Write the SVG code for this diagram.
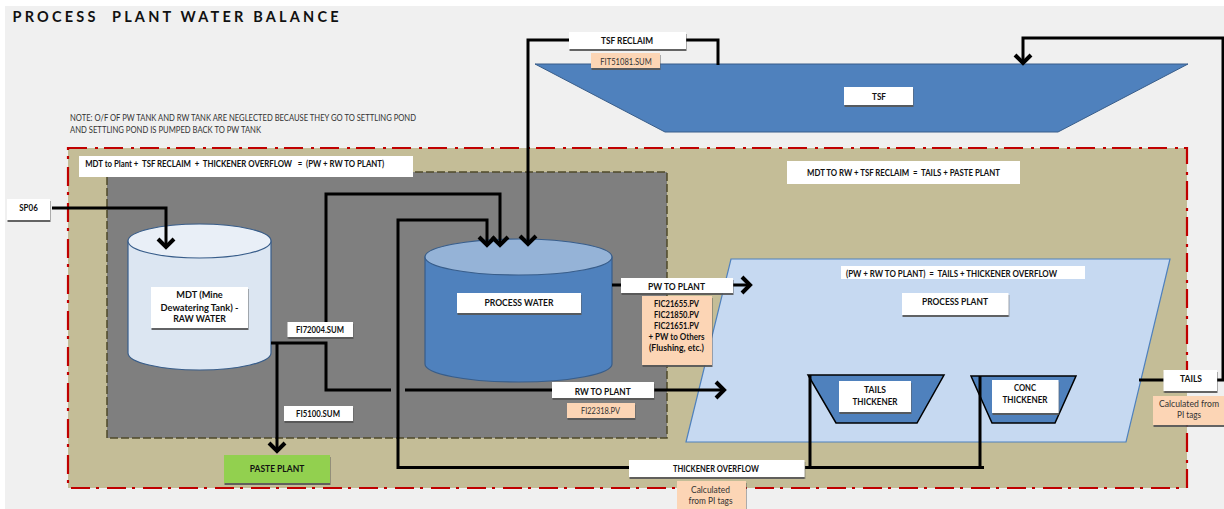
<svg xmlns="http://www.w3.org/2000/svg" width="1224" height="509" viewBox="0 0 1224 509">
<style>
text{font-family:Lato,"Open Sans","Liberation Sans",sans-serif;font-size:9px;fill:#111;text-anchor:middle;font-weight:700;white-space:pre}
.note{font-size:8.5px;font-weight:400;text-anchor:start;fill:#333}
.tag{font-weight:400;fill:#333}
.w{fill:#fff;filter:url(#sh)}
.p{fill:#fcd5b5;filter:url(#sh)}
.n{fill:#fff}
.c{fill:none;stroke:#000;stroke-width:3}
.a{marker-end:url(#ah)}
.tk{stroke:#385d8a;stroke-width:1.2}
</style>
<defs>
<filter id="sh" x="-10%" y="-20%" width="120%" height="150%"><feDropShadow dx="0.5" dy="2" stdDeviation="0.6" flood-color="#555" flood-opacity="0.9"/></filter>
<marker id="ah" markerUnits="userSpaceOnUse" markerWidth="26" markerHeight="26" viewBox="-18 -13 26 26" refX="1" refY="0" orient="auto"><path d="M-8,-8 L0,0 L-8,8" fill="none" stroke="#000" stroke-width="4"/></marker>
</defs>
<rect width="1224" height="509" fill="#fff"/>
<rect x="5" y="6" width="1219" height="503" fill="#f0f0f0"/>
<text id="title" x="12.500" y="22" style="font-size:14.500px;text-anchor:start;font-weight:700" textLength="326" lengthAdjust="spacing">PROCESS  PLANT WATER BALANCE</text>
<g id="note"><text class="note" x="70" y="121" textLength="346" lengthAdjust="spacingAndGlyphs">NOTE: O/F OF PW TANK AND RW TANK ARE NEGLECTED BECAUSE THEY GO TO SETTLING POND</text><text class="note" x="70" y="133" textLength="191" lengthAdjust="spacingAndGlyphs">AND SETTLING POND IS PUMPED BACK TO PW TANK</text></g>

<g id="plant-boundary"><rect x="68" y="148" width="1119" height="340" fill="#c4bd97"/></g>
<g id="tank-area"><rect x="107" y="172" width="560" height="266" fill="#7f7f7f" stroke="#4f4a2a" stroke-width="1.5" stroke-dasharray="8 3"/></g>
<g id="boundary-line"><rect x="68" y="148" width="1119" height="340" fill="none" stroke="#c00000" stroke-width="2.2" stroke-dasharray="19 8 3 6"/></g>

<g id="tsf"><polygon points="535,64 1188,64 1058,132 665,132" fill="#4f81bd" stroke="#385d8a"/><rect class="w" x="844" y="87" width="69" height="18"/><text x="879" y="100" textLength="14" lengthAdjust="spacingAndGlyphs">TSF</text></g>

<g id="mdt"><path class="tk" d="M128,241 V353 A71.5,17 0 0 0 271,353 V241 Z" fill="#dce6f2"/><ellipse class="tk" cx="199.5" cy="241" rx="71.5" ry="17" fill="#e9eff7"/><rect class="w" x="151" y="287" width="97" height="41"/><text x="199.5" y="298" textLength="46.500" lengthAdjust="spacingAndGlyphs">MDT (Mine</text><text x="199.5" y="311" textLength="78" lengthAdjust="spacingAndGlyphs">Dewatering Tank) -</text><text x="199.5" y="322" textLength="52.700" lengthAdjust="spacingAndGlyphs">RAW WATER</text></g>

<g id="process-water"><path class="tk" d="M425,257 V364 A93.5,18 0 0 0 612,364 V257 Z" fill="#4f81bd"/><ellipse class="tk" cx="518.5" cy="257" rx="93.5" ry="18" fill="#95b3d7"/><rect class="w" x="457" y="293" width="124" height="20"/><text x="519" y="306" textLength="69" lengthAdjust="spacingAndGlyphs">PROCESS WATER</text></g>

<g id="process-plant"><polygon points="731,259 1170,259 1126,442 686,442" fill="#c6d9f1" stroke="#4f81bd" stroke-width="1.2"/><rect class="n" x="841" y="266" width="244" height="13"/><text x="951.500" y="276.500" textLength="211" lengthAdjust="spacingAndGlyphs">(PW + RW TO PLANT)  =  TAILS + THICKENER OVERFLOW</text><rect class="w" x="902" y="293" width="106.500" height="22"/><text x="955" y="305" textLength="66" lengthAdjust="spacingAndGlyphs">PROCESS PLANT</text></g>

<g id="tails-thickener"><polygon points="808,375 944,375 917,423 836,423" fill="#4f81bd" stroke="#000" stroke-width="1.5"/><rect class="w" x="839" y="381" width="72" height="31"/><text x="875" y="393" textLength="22" lengthAdjust="spacingAndGlyphs">TAILS</text><text x="875" y="405" textLength="45" lengthAdjust="spacingAndGlyphs">THICKENER</text></g>
<g id="conc-thickener"><polygon points="971,376 1076,376 1055,423 992,423" fill="#4f81bd" stroke="#000" stroke-width="1.5"/><rect class="w" x="992" y="380" width="66.500" height="33"/><text x="1025" y="391" textLength="22" lengthAdjust="spacingAndGlyphs">CONC</text><text x="1025" y="403" textLength="45" lengthAdjust="spacingAndGlyphs">THICKENER</text></g>

<g id="eq-left"><rect class="n" x="79" y="156" width="334" height="21"/><text x="234.700" y="167" textLength="299" lengthAdjust="spacingAndGlyphs">MDT to Plant +  TSF RECLAIM  +  THICKENER OVERFLOW   =  (PW + RW TO PLANT)</text></g>
<g id="eq-right"><rect class="n" x="787" y="161" width="233" height="23"/><text x="903.500" y="176" textLength="193" lengthAdjust="spacingAndGlyphs">MDT TO RW + TSF RECLAIM  =  TAILS + PASTE PLANT</text></g>

<g id="connectors">
<path class="c a" d="M52,208 H166 V248"/>
<path class="c a" d="M569,40 H528 V245"/>
<path class="c" d="M686,40 H718 V65"/>
<path class="c a" d="M1224,38 H1023 V64"/>
<path class="c" d="M1223,38 V380 H1217"/>
<path class="c" d="M1164,380 H1139"/>
<path class="c a" d="M326,322 V194 H500 V246"/>
<path class="c a" d="M630,467.500 H398 V220 H487 V246"/>
<path class="c" d="M271,343 H326 V390 H391"/>
<path class="c" d="M405,390 H552"/>
<path class="c a" d="M654,390 H725"/>
<path class="c a" d="M277,343 V452"/>
<path class="c" d="M612,285 H621"/>
<path class="c a" d="M733,285 H751"/>
<path class="c" d="M805,467.500 H984"/>
<path class="c" d="M810,467.500 V375"/>
<path class="c" d="M980,467.500 V376"/>
</g>

<g id="sp06"><rect class="w" x="7" y="199" width="43" height="21"/><text x="28.500" y="211" textLength="18.500" lengthAdjust="spacingAndGlyphs">SP06</text></g>
<g id="tsf-reclaim"><rect class="w" x="569" y="32" width="117" height="17"/><text x="627" y="44" textLength="52" lengthAdjust="spacingAndGlyphs">TSF RECLAIM</text></g>
<g id="fit51081"><rect class="p" x="591" y="53" width="69" height="15"/><text class="tag" x="626" y="65" textLength="51.500" lengthAdjust="spacingAndGlyphs">FIT51081.SUM</text></g>
<g id="fi72004"><rect class="w" x="287.500" y="322" width="65.500" height="15"/><text x="320" y="333" textLength="48" lengthAdjust="spacingAndGlyphs">FI72004.SUM</text></g>
<g id="fi5100"><rect class="w" x="284" y="406" width="69" height="15"/><text x="318" y="417" textLength="44" lengthAdjust="spacingAndGlyphs">FI5100.SUM</text></g>
<g id="paste-plant"><rect x="224" y="455" width="106" height="28" fill="#92d050" filter="url(#sh)"/><text x="277" y="472" textLength="54.700" lengthAdjust="spacingAndGlyphs">PASTE PLANT</text></g>
<g id="rw-to-plant"><rect class="w" x="552" y="382" width="102" height="16"/><text x="602.700" y="395" textLength="56" lengthAdjust="spacingAndGlyphs">RW TO PLANT</text></g>
<g id="fi22318"><rect class="p" x="567" y="403" width="68" height="15"/><text class="tag" x="600.500" y="414" textLength="39" lengthAdjust="spacingAndGlyphs">FI22318.PV</text></g>
<g id="pw-to-plant"><rect class="w" x="621" y="278" width="112" height="15"/><text x="676.500" y="289.500" textLength="57" lengthAdjust="spacingAndGlyphs">PW TO PLANT</text></g>
<g id="fic"><rect class="p" x="642" y="296" width="70" height="69"/><text x="676.500" y="307" textLength="45" lengthAdjust="spacingAndGlyphs">FIC21655.PV</text><text x="676.500" y="318" textLength="45" lengthAdjust="spacingAndGlyphs">FIC21850.PV</text><text x="676.500" y="329" textLength="45" lengthAdjust="spacingAndGlyphs">FIC21651.PV</text><text x="676.500" y="340" textLength="56" lengthAdjust="spacingAndGlyphs">+ PW to Others</text><text x="676.500" y="351" textLength="55" lengthAdjust="spacingAndGlyphs">(Flushing, etc.)</text></g>
<g id="tails"><rect class="w" x="1163.500" y="370" width="53.500" height="21"/><text x="1191" y="382" textLength="22" lengthAdjust="spacingAndGlyphs">TAILS</text></g>
<g id="tails-calc"><rect class="p" x="1153" y="396" width="71" height="29"/><text class="tag" x="1189" y="407" textLength="60" lengthAdjust="spacingAndGlyphs">Calculated from</text><text class="tag" x="1189" y="418" textLength="24" lengthAdjust="spacingAndGlyphs">PI tags</text></g>
<g id="thickener-overflow"><rect class="w" x="629" y="460" width="175.500" height="17"/><text x="716" y="472" textLength="86" lengthAdjust="spacingAndGlyphs">THICKENER OVERFLOW</text></g>
<g id="overflow-calc"><rect class="p" x="677" y="481" width="69" height="28"/><text class="tag" x="710.500" y="493" textLength="39" lengthAdjust="spacingAndGlyphs">Calculated</text><text class="tag" x="710.500" y="504" textLength="44" lengthAdjust="spacingAndGlyphs">from PI tags</text></g>
</svg>
